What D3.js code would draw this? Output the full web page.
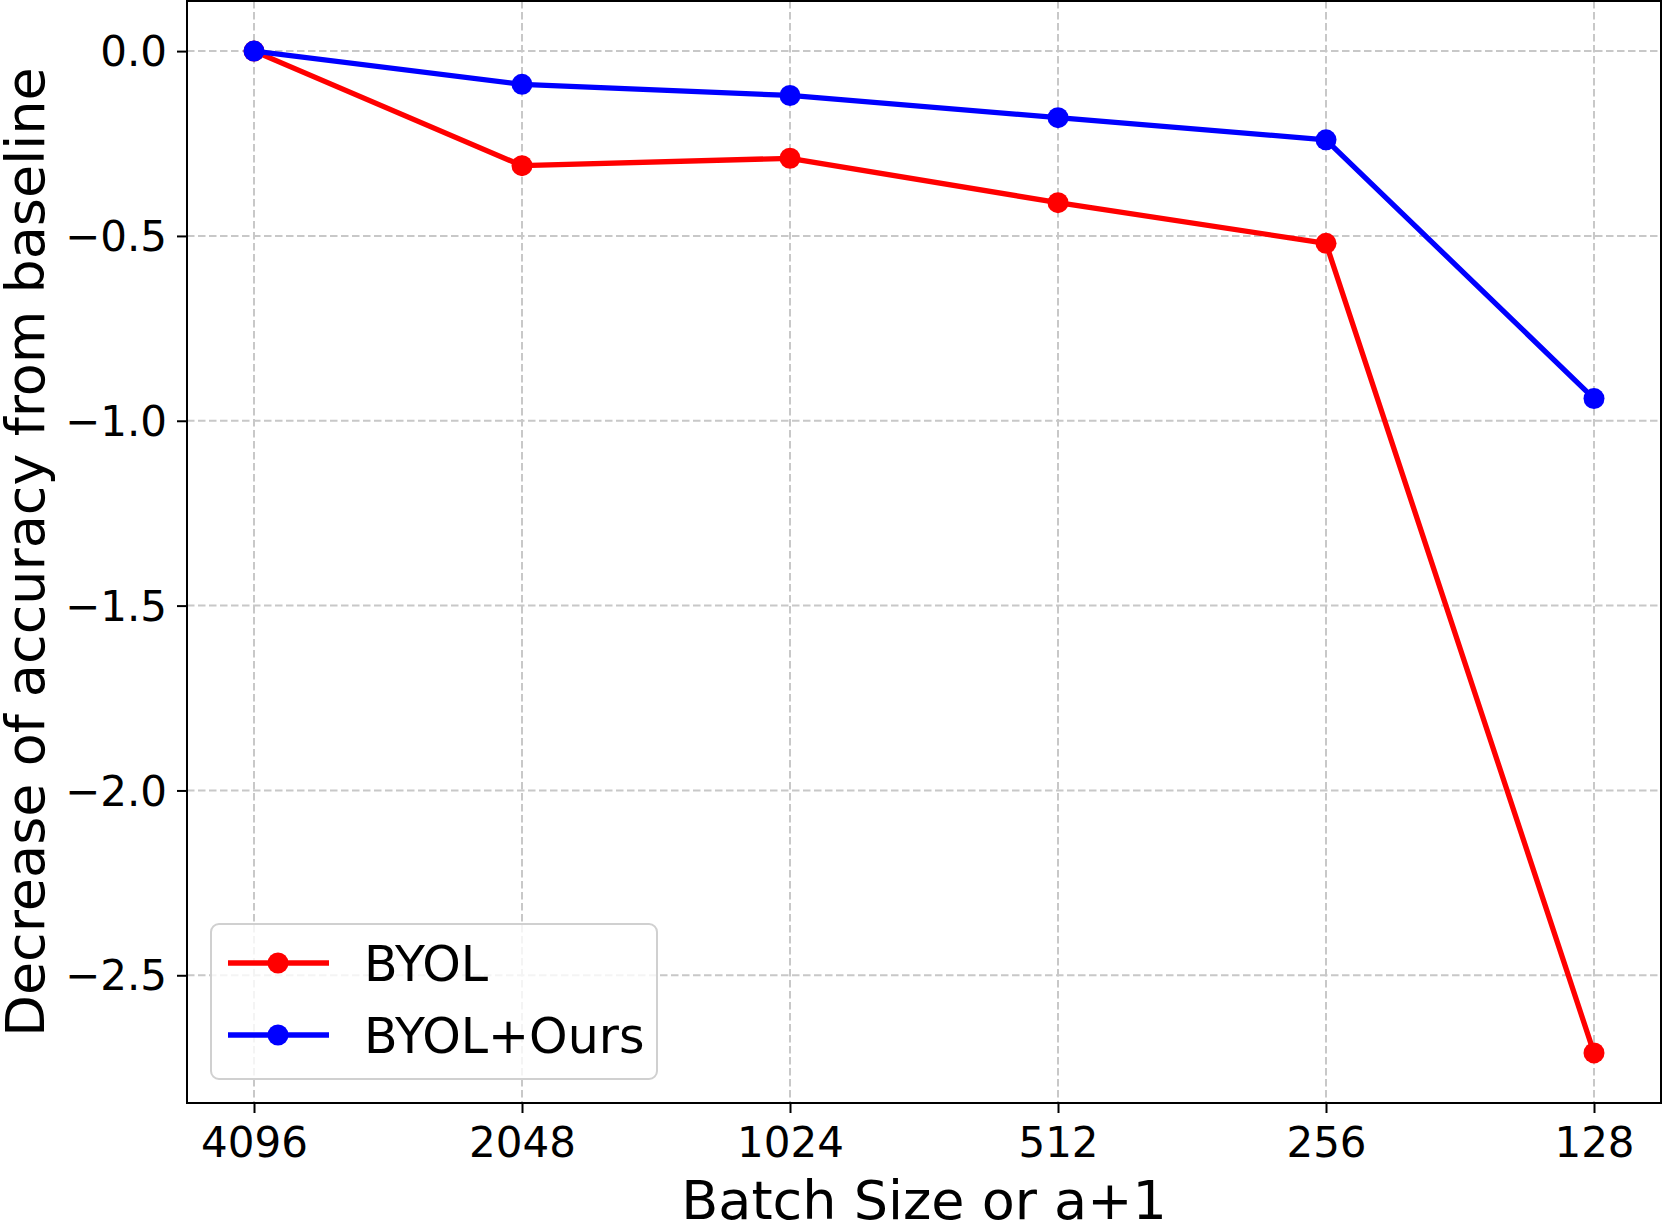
<!DOCTYPE html>
<html lang="en">
<head>
    <meta charset="UTF-8">
    <title>Batch size chart</title>
    <style>
        body,html{
            margin:0;
            padding:0;
            border:0;
            background:#fff;
        }
        svg text{ font-family:"DejaVu Sans"; }
    </style>
</head>
<body>
    <svg id="svg" width="1662" height="1230"></svg>
    <script type="text/javascript" src="https://cdnjs.cloudflare.com/ajax/libs/d3/7.8.5/d3.min.js"></script>
    <script type="text/javascript">
        var batchSizes = ["4096", "2048", "1024", "512", "256", "128"];
        var byol = [0, -0.31, -0.29, -0.41, -0.52, -2.71];
        var byolOurs = [0, -0.09, -0.12, -0.18, -0.24, -0.94];
        var yTicks = [0, -0.5, -1.0, -1.5, -2.0, -2.5];
        var seriesNames = ["BYOL", "BYOL+Ours"];
        var seriesColors = ["#ff0000", "#0000ff"];

        var m = {left:187, right:1661, top:1, bottom:1103};
        var svg = d3.select("#svg");

        // 5% margins like matplotlib
        var x = d3.scaleLinear().domain([-0.25, batchSizes.length - 0.75]).range([m.left, m.right]);
        var ymin = d3.min(byol), ymax = 0, pad = (ymax - ymin) * 0.05;
        var y = d3.scaleLinear().domain([ymin - pad, ymax + pad]).range([m.bottom, m.top]);

        var fmt = function(d){ return d3.format(".1f")(d).replace("-", "\u2212"); };

        // grid
        var grid = svg.append("g").attr("stroke", "#c8c8c8").attr("stroke-width", 2).attr("stroke-dasharray", "7.5,3.5");
        grid.selectAll("line.gx").data(batchSizes).enter().append("line")
            .attr("x1", function(d, i){ return x(i); }).attr("x2", function(d, i){ return x(i); })
            .attr("y1", m.top).attr("y2", m.bottom);
        grid.selectAll("line.gy").data(yTicks).enter().append("line")
            .attr("x1", m.left).attr("x2", m.right)
            .attr("y1", function(d){ return y(d); }).attr("y2", function(d){ return y(d); });

        // axes
        var xAxis = d3.axisBottom(x).tickValues(d3.range(batchSizes.length))
            .tickFormat(function(d){ return batchSizes[d]; }).tickSizeOuter(0).tickSize(10).tickPadding(4);
        var gx = svg.append("g").attr("transform", "translate(0," + m.bottom + ")").call(xAxis);
        var yAxis = d3.axisLeft(y).tickValues(yTicks).tickFormat(fmt).tickSizeOuter(0).tickSize(10).tickPadding(10);
        var gy = svg.append("g").attr("transform", "translate(" + m.left + ",0)").call(yAxis);
        [gx, gy].forEach(function(g){
            g.select(".domain").remove();
            g.selectAll(".tick line").attr("stroke", "#000").attr("stroke-width", 2);
            g.selectAll(".tick text").attr("fill", "#000").style("font-size", "42px").style("font-family", "DejaVu Sans");
        });
        gx.selectAll(".tick text").attr("dy", "0.95em");
        gy.selectAll(".tick text").attr("dy", "0.35em");

        // lines
        var line = d3.line().x(function(d, i){ return x(i); }).y(function(d){ return y(d); });
        [byol, byolOurs].forEach(function(s, k){
            svg.append("path").datum(s).attr("d", line).attr("fill", "none")
                .attr("stroke", seriesColors[k]).attr("stroke-width", 5.3).attr("stroke-linejoin", "round");
            svg.selectAll("circle.s" + k).data(s).enter().append("circle")
                .attr("cx", function(d, i){ return x(i); }).attr("cy", function(d){ return y(d); })
                .attr("r", 10.5).attr("fill", seriesColors[k]);
        });

        // frame
        svg.append("rect").attr("x", m.left).attr("y", m.top).attr("width", m.right - m.left).attr("height", m.bottom - m.top)
            .attr("fill", "none").attr("stroke", "#000").attr("stroke-width", 2);

        // legend
        var lg = svg.append("g");
        lg.append("rect").attr("x", 211).attr("y", 924).attr("width", 446).attr("height", 155).attr("rx", 8)
            .attr("fill", "#fff").attr("fill-opacity", 0.8).attr("stroke", "#d0d0d0").attr("stroke-width", 2);
        seriesNames.forEach(function(n, k){
            var yy = 963 + k * 72;
            lg.append("line").attr("x1", 228).attr("x2", 329).attr("y1", yy).attr("y2", yy)
                .attr("stroke", seriesColors[k]).attr("stroke-width", 5.3);
            lg.append("circle").attr("cx", 278).attr("cy", yy).attr("r", 10.5).attr("fill", seriesColors[k]);
            lg.append("text").attr("x", 364).attr("y", yy).attr("dy", "0.36em").style("font-size", "49px").text(n);
        });

        // axis labels
        svg.append("text").attr("x", (m.left + m.right) / 2).attr("y", 1219).attr("text-anchor", "middle")
            .style("font-size", "54px").text("Batch Size or a+1");
        svg.append("text").attr("transform", "translate(44," + ((m.top + m.bottom) / 2) + ") rotate(-90)")
            .attr("text-anchor", "middle").style("font-size", "54px").text("Decrease of accuracy from baseline");
    </script>
</body>
</html>
